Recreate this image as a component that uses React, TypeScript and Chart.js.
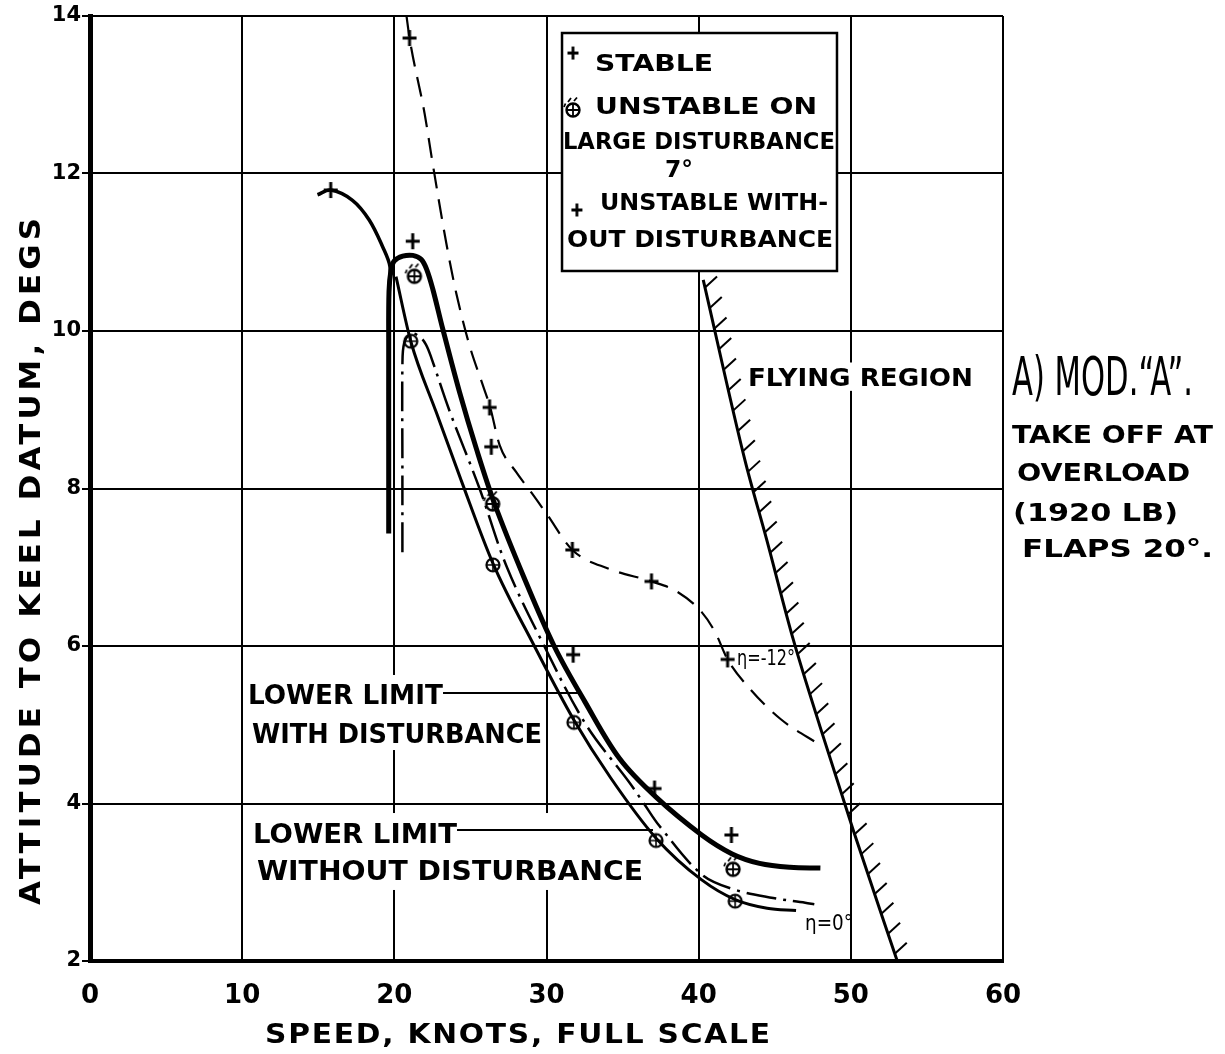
import React, { useEffect, useRef } from 'react';
import { Chart, registerables } from 'chart.js';

Chart.register(...registerables);

const FONT = '"DejaVu Sans", "Liberation Sans", Arial, sans-serif';

// ---- axes ----
const X_MIN = 0;
const X_MAX = 60;
const X_STEP = 10;
const Y_MIN = 2;
const Y_MAX = 14;
const Y_STEP = 2;
const X_TITLE = 'SPEED, KNOTS, FULL SCALE';
const Y_TITLE = 'ATTITUDE TO KEEL DATUM, DEGS';

// ---- curves (speed knots, attitude degs) ----
const stallX = [14.95, 15.82, 17.25, 18.35, 19.23, 19.71, 19.66];
const stallY = [11.73, 11.79, 11.66, 11.41, 11.07, 10.82, 10.55];

const withDistX = [19.63, 19.63, 19.63, 19.65, 19.78, 20.0, 20.55, 21.21, 21.76, 22.13, 22.53, 23.19, 24.29, 25.4, 26.6, 28.5, 30.5, 32.5, 34.8, 37.2, 40.2, 42.2, 44.0, 46.0, 48.0];
const withDistY = [7.43, 8.6, 9.8, 10.5, 10.77, 10.89, 10.95, 10.96, 10.91, 10.78, 10.53, 10.02, 9.22, 8.5, 7.8, 6.88, 6.0, 5.3, 4.57, 4.08, 3.6, 3.36, 3.24, 3.19, 3.18];

const noDistX = [20.11, 21.08, 22.75, 24.4, 26.48, 29.2, 31.8, 34.2, 37.2, 40.2, 42.4, 44.5, 46.4];
const noDistY = [10.69, 9.87, 8.97, 8.1, 7.05, 6.0, 5.06, 4.33, 3.56, 3.03, 2.78, 2.67, 2.64];

const dashDotX = [20.53, 20.53, 20.53, 20.65, 21.1, 21.65, 22.07, 22.45, 23.6, 25.6, 27.4, 29.85, 32.6, 35.4, 36.4, 37.4, 40.2, 42.3, 44.9, 47.0, 47.6];
const dashDotY = [7.19, 8.4, 9.55, 9.85, 9.97, 9.93, 9.83, 9.65, 9.0, 8.0, 7.0, 6.0, 5.0, 4.28, 4.0, 3.72, 3.1, 2.91, 2.8, 2.74, 2.72];

const etaX = [20.8, 21.0, 22.0, 22.5, 23.41, 24.07, 24.95, 25.82, 26.3, 26.92, 28.0, 29.0, 30.0, 31.7, 34.1, 36.9, 38.5, 40.2, 41.1, 41.9, 43.4, 45.4, 48.0];
const etaY = [14.0, 13.72, 12.75, 12.15, 11.12, 10.48, 9.81, 9.31, 9.03, 8.55, 8.21, 7.95, 7.68, 7.22, 6.98, 6.82, 6.7, 6.43, 6.17, 5.83, 5.45, 5.07, 4.74];

const boundaryX = [40.3, 43.04, 44.47, 46.22, 47.97, 50.16, 53.05];
const boundaryY = [10.65, 8.36, 7.35, 6.08, 4.98, 3.66, 2.0];

// ---- markers ----
const plusX = [15.82, 21.0, 21.21, 26.26, 26.37, 31.7, 36.9, 31.75, 37.1, 42.15, 41.9];
const plusY = [11.79, 13.72, 11.14, 9.03, 8.53, 7.22, 6.82, 5.89, 4.19, 3.6, 5.83];

const circPlusX = [21.08, 26.48, 31.8, 37.2, 42.4];
const circPlusY = [9.87, 7.03, 5.03, 3.53, 2.76];

const largeDistX = [21.32, 26.46, 42.26];
const largeDistY = [10.72, 7.83, 3.19];

// ---- annotation texts: [text, left x, centre y, width (knots), font px, weight] ----
type Txt = [string, number, number, number, number, string];
const plotTexts: Txt[] = [
  ['FLYING REGION', 43.24, 9.416, 14.79, 24, 'bold'],
  ['LOWER LIMIT', 10.38, 5.378, 12.81, 26, 'bold'],
  ['WITH DISTURBANCE', 10.65, 4.883, 19.06, 26, 'bold'],
  ['LOWER LIMIT', 10.71, 3.625, 13.41, 26, 'bold'],
  ['WITHOUT DISTURBANCE', 10.97, 3.143, 25.37, 26, 'bold'],
  ['η=-12°', 42.52, 5.86, 3.81, 22, 'normal'],
  ['η=0°', 46.99, 2.495, 3.15, 22, 'normal'],
];
const sideTexts: Txt[] = [
  ['A) MOD.“A”.', 60.59, 9.441, 11.9, 54, 'normal'],
  ['TAKE OFF AT', 60.59, 8.692, 13.21, 25, 'bold'],
  ['OVERLOAD', 60.92, 8.21, 11.37, 25, 'bold'],
  ['(1920 LB)', 60.66, 7.7, 10.84, 25, 'bold'],
  ['FLAPS 20°.', 61.25, 7.244, 12.55, 25, 'bold'],
];
const legendTexts: Txt[] = [
  ['STABLE', 33.19, 13.403, 7.755, 23, 'bold'],
  ['UNSTABLE ON', 33.19, 12.857, 14.59, 23, 'bold'],
  ['LARGE DISTURBANCE', 31.08, 12.413, 17.875, 23, 'bold'],
  ['7°', 37.79, 12.057, 1.84, 23, 'bold'],
  ['UNSTABLE WITH-', 33.52, 11.638, 14.98, 23, 'bold'],
  ['OUT DISTURBANCE', 31.35, 11.168, 17.48, 23, 'bold'],
];
// legend box [x1, x2, yTop, yBottom] and symbol positions
const legendBox = [31.02, 49.09, 13.784, 10.762];
const legendStable = [31.74, 13.53];
const legendLarge = [31.74, 12.832];
const legendUnstable = [32.0, 11.537];

// white label backgrounds [x1, x2, yTop, yBottom]
const whiteBoxes = [
  [10.25, 29.77, 5.632, 4.679],
  [10.51, 36.67, 3.879, 2.902],
  [43.0, 58.4, 9.6, 9.24],
];
// leader lines [x1, x2, y]
const leaders = [
  [23.2, 32.2, 5.403],
  [24.12, 37.0, 3.663],
];
// axis titles: x title [left, centreY, width]; y title [centreX, startY, endY]
const xTitlePos = [11.5, 1.086, 33.19];
const yTitlePos = [-3.95, 2.711, 11.435];

const pts = (xs: number[], ys: number[]) => xs.map((x, i) => ({ x, y: ys[i] }));

function makePlus(w: number, h: number, lw: number) {
  const c = document.createElement('canvas');
  c.width = w;
  c.height = h;
  const g = c.getContext('2d')!;
  g.strokeStyle = '#000';
  g.lineWidth = lw;
  g.beginPath();
  g.moveTo(w / 2, 1);
  g.lineTo(w / 2, h - 1);
  g.moveTo(1, h / 2);
  g.lineTo(w - 1, h / 2);
  g.stroke();
  return c;
}

function makeCircPlus() {
  const c = document.createElement('canvas');
  c.width = 18;
  c.height = 18;
  const g = c.getContext('2d')!;
  g.strokeStyle = '#000';
  g.lineWidth = 2.2;
  g.beginPath();
  g.arc(9, 9, 6.5, 0, Math.PI * 2);
  g.stroke();
  g.lineWidth = 1.6;
  g.beginPath();
  g.moveTo(9, 2.5);
  g.lineTo(9, 15.5);
  g.moveTo(2.5, 9);
  g.lineTo(15.5, 9);
  g.stroke();
  return c;
}

function makeLarge() {
  const c = document.createElement('canvas');
  c.width = 22;
  c.height = 24;
  const g = c.getContext('2d')!;
  g.strokeStyle = '#000';
  g.lineWidth = 2.4;
  g.beginPath();
  g.arc(11, 14, 6.5, 0, Math.PI * 2);
  g.stroke();
  g.lineWidth = 1.8;
  g.beginPath();
  g.moveTo(11, 8);
  g.lineTo(11, 20);
  g.moveTo(5, 14);
  g.lineTo(17, 14);
  g.moveTo(6, 6);
  g.lineTo(9, 2);
  g.moveTo(12, 5);
  g.lineTo(15, 1.5);
  g.moveTo(2, 11);
  g.lineTo(3.5, 7.5);
  g.stroke();
  return c;
}

function drawFit(ctx: CanvasRenderingContext2D, text: string, x: number, y: number, w: number, size: number, weight: string, stretchMax = 1.25, rotate = false) {
  ctx.save();
  ctx.fillStyle = '#000';
  ctx.font = `${weight} ${size}px ${FONT}`;
  ctx.textAlign = 'left';
  ctx.textBaseline = 'alphabetic';
  const anyCtx = ctx as any;
  const hasLS = 'letterSpacing' in anyCtx;
  if (hasLS) anyCtx.letterSpacing = '0px';
  const natural = ctx.measureText(text).width;
  const cap = size * 0.73;
  ctx.translate(x, y);
  if (rotate) ctx.rotate(-Math.PI / 2);
  if (natural < w && text.length > 1) {
    const s = hasLS ? Math.min(w / natural, stretchMax) : w / natural;
    const rest = w - natural * s;
    ctx.scale(s, 1);
    if (hasLS && rest > 0) anyCtx.letterSpacing = rest / s / (text.length - 1) + 'px';
    ctx.fillText(text, 0, cap / 2);
  } else {
    ctx.scale(w / natural, 1);
    ctx.fillText(text, 0, cap / 2);
  }
  ctx.restore();
}

export default function App() {
  const ref = useRef<HTMLCanvasElement>(null);

  useEffect(() => {
    const canvas = ref.current!;
    const plusImg = makePlus(16, 18, 3);
    const circImg = makeCircPlus();
    const largeImg = makeLarge();

    const BOUNDARY = 5;

    const annot = {
      id: 'annot',
      beforeDatasetsDraw(chart: any) {
        const ctx: CanvasRenderingContext2D = chart.ctx;
        const sx = chart.scales.x;
        const sy = chart.scales.y;
        ctx.save();
        ctx.fillStyle = '#fff';
        for (const b of whiteBoxes) {
          const x1 = sx.getPixelForValue(b[0]);
          const x2 = sx.getPixelForValue(b[1]);
          const y1 = sy.getPixelForValue(b[2]);
          const y2 = sy.getPixelForValue(b[3]);
          ctx.fillRect(x1, y1, x2 - x1, y2 - y1);
        }
        const lx1 = sx.getPixelForValue(legendBox[0]);
        const lx2 = sx.getPixelForValue(legendBox[1]);
        const ly1 = sy.getPixelForValue(legendBox[2]);
        const ly2 = sy.getPixelForValue(legendBox[3]);
        ctx.fillRect(lx1, ly1, lx2 - lx1, ly2 - ly1);
        ctx.restore();
      },
      afterDatasetsDraw(chart: any) {
        const ctx: CanvasRenderingContext2D = chart.ctx;
        const sx = chart.scales.x;
        const sy = chart.scales.y;
        const X = (v: number) => sx.getPixelForValue(v);
        const Y = (v: number) => sy.getPixelForValue(v);

        // hatching on the flying-region boundary
        const meta = chart.getDatasetMeta(BOUNDARY);
        const p = meta.data.map((e: any) => ({ x: e.x, y: e.y }));
        ctx.save();
        ctx.strokeStyle = '#000';
        ctx.lineWidth = 2;
        let next = 8;
        let acc = 0;
        for (let i = 0; i < p.length - 1; i++) {
          const dx = p[i + 1].x - p[i].x;
          const dy = p[i + 1].y - p[i].y;
          const len = Math.hypot(dx, dy);
          while (next <= acc + len) {
            const t = (next - acc) / len;
            const hx = p[i].x + dx * t;
            const hy = p[i].y + dy * t;
            ctx.beginPath();
            ctx.moveTo(hx, hy);
            ctx.lineTo(hx + 12, hy - 11);
            ctx.stroke();
            next += 21;
          }
          acc += len;
        }
        ctx.restore();

        // leader lines
        ctx.save();
        ctx.strokeStyle = '#000';
        ctx.lineWidth = 2;
        for (const l of leaders) {
          ctx.beginPath();
          ctx.moveTo(X(l[0]), Y(l[2]));
          ctx.lineTo(X(l[1]), Y(l[2]));
          ctx.stroke();
        }
        ctx.restore();

        // legend box
        const lx1 = X(legendBox[0]);
        const lx2 = X(legendBox[1]);
        const ly1 = Y(legendBox[2]);
        const ly2 = Y(legendBox[3]);
        ctx.save();
        ctx.strokeStyle = '#000';
        ctx.lineWidth = 2.5;
        ctx.strokeRect(lx1, ly1, lx2 - lx1, ly2 - ly1);
        ctx.restore();
        const sp = makePlus(13, 15, 2.8);
        ctx.drawImage(sp, X(legendStable[0]) - 6.5, Y(legendStable[1]) - 7.5);
        ctx.drawImage(largeImg, X(legendLarge[0]) - 11, Y(legendLarge[1]) - 12);
        ctx.drawImage(sp, X(legendUnstable[0]) - 6.5, Y(legendUnstable[1]) - 7.5);

        const all = [...plotTexts, ...legendTexts, ...sideTexts];
        for (const t of all) {
          const x = X(t[1]);
          const w = X(t[1] + t[3]) - x;
          drawFit(ctx, t[0], x, Y(t[2]), w, t[4], t[5]);
        }

        // axis titles
        const xl = X(xTitlePos[0]);
        drawFit(ctx, X_TITLE, xl, Y(xTitlePos[1]), X(xTitlePos[0] + xTitlePos[2]) - xl, 27, 'bold', 1.1);
        const y0 = Y(yTitlePos[1]);
        const y1 = Y(yTitlePos[2]);
        drawFit(ctx, Y_TITLE, X(yTitlePos[0]), y0, y0 - y1, 28, 'bold', 1.1, true);
      },
    };

    const line = (data: any, width: number, dash: number[] = [], mode: 'bezier' | 'monotone' = 'bezier', tension = 0.35) => ({
      data,
      showLine: true,
      borderColor: '#000',
      backgroundColor: '#000',
      borderWidth: width,
      borderDash: dash,
      pointRadius: 0,
      pointHoverRadius: 0,
      tension,
      cubicInterpolationMode: mode === 'monotone' ? 'monotone' : 'default',
      fill: false,
    });

    const chart = new Chart(canvas, {
      type: 'scatter',
      data: {
        datasets: [
          { label: 'stall', ...line(pts(stallX, stallY), 3.5) },
          { label: 'lower limit with disturbance', ...line(pts(withDistX, withDistY), 5) },
          { label: 'lower limit without disturbance', ...line(pts(noDistX, noDistY), 3, [], 'monotone') },
          { label: 'dash-dot', ...line(pts(dashDotX, dashDotY), 2.5, [30, 7, 3, 7]) },
          { label: 'eta -12', ...line(pts(etaX, etaY), 2.2, [20, 11], 'monotone') },
          { label: 'flying region boundary', ...line(pts(boundaryX, boundaryY), 3, [], 'monotone') },
          {
            label: 'circled',
            data: pts(circPlusX, circPlusY),
            pointStyle: circImg as any,
            pointRadius: 8,
            showLine: false,
          },
          {
            label: 'unstable on large disturbance',
            data: pts(largeDistX, largeDistY),
            pointStyle: largeImg as any,
            pointRadius: 8,
            showLine: false,
          },
          {
            label: 'stable / unstable without disturbance',
            data: pts(plusX, plusY),
            pointStyle: plusImg as any,
            pointRadius: 8,
            showLine: false,
          },
        ] as any,
      },
      options: {
        animation: false,
        responsive: false,
        devicePixelRatio: 1,
        layout: { padding: { left: 0, top: 16, right: 222, bottom: 0 } },
        plugins: {
          legend: { display: false },
          tooltip: { enabled: false },
        },
        events: [],
        scales: {
          x: {
            type: 'linear',
            min: X_MIN,
            max: X_MAX,
            ticks: {
              stepSize: X_STEP,
              color: '#000',
              padding: 20,
              font: { family: FONT, size: 26, weight: 'bold' },
            },
            grid: { color: '#000', lineWidth: 2, drawTicks: false },
            border: { display: true, color: '#000', width: 4 },
            afterFit: (s: any) => {
              s.height = 93;
            },
          },
          y: {
            type: 'linear',
            min: Y_MIN,
            max: Y_MAX,
            ticks: {
              stepSize: Y_STEP,
              color: '#000',
              padding: 1,
              font: { family: FONT, size: 21, weight: 'bold' },
            },
            grid: { color: '#000', lineWidth: 2, drawTicks: true, tickLength: 8 },
            border: { display: true, color: '#000', width: 5 },
            afterFit: (s: any) => {
              s.width = 90;
            },
          },
        },
      } as any,
      plugins: [annot],
    });

    return () => chart.destroy();
  }, []);

  return (
    <div style={{ position: 'absolute', left: 0, top: 0, width: 1225, height: 1054, background: '#fff' }}>
      <canvas ref={ref} width={1225} height={1054} style={{ width: 1225, height: 1054, display: 'block' }} />
    </div>
  );
}
